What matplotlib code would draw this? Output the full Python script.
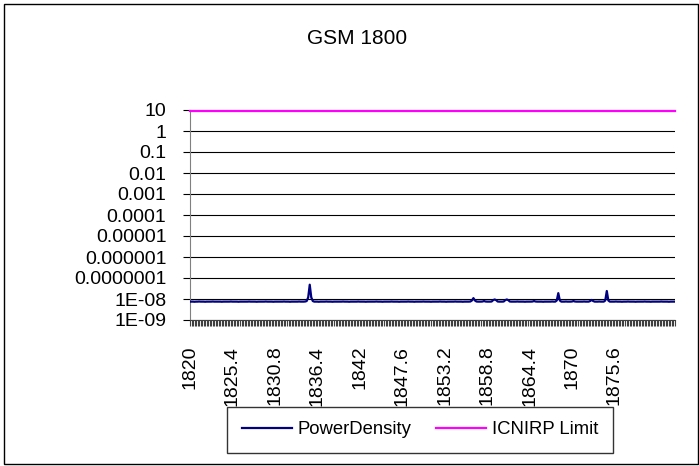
import matplotlib
matplotlib.use("Agg")
import matplotlib.pyplot as plt
from matplotlib.patches import Rectangle

plt.rcParams['font.family'] = ['Liberation Sans', 'DejaVu Sans']

title = "GSM 1800"
series_names = ["PowerDensity", "ICNIRP Limit"]

# tick labels shown on the category axis (every 28th category)
tick_labels = ["1820", "1825.4", "1830.8", "1836.4", "1842", "1847.6",
               "1853.2", "1858.8", "1864.4", "1870", "1875.6"]
label_every = 28

# PowerDensity values, in units of 1e-9 W/m^2 (321 categories)
power_density_e9 = [
    7.5, 7.5, 7.5, 7.4, 7.5, 7.5, 7.6, 7.5, 7.5, 7.5, 7.4, 7.5, 7.5, 7.5, 7.5, 7.6, 7.5, 7.5, 7.5, 7.5,
    7.5, 7.4, 7.5, 7.5, 7.5, 7.5, 7.5, 7.6, 7.5, 7.5, 7.5, 7.5, 7.4, 7.5, 7.5, 7.5, 7.5, 7.5, 7.5, 7.6,
    7.5, 7.5, 7.5, 7.5, 7.4, 7.5, 7.5, 7.5, 7.5, 7.5, 7.6, 7.5, 7.5, 7.5, 7.5, 7.4, 7.5, 7.5, 7.5, 7.5,
    7.5, 7.5, 7.6, 7.5, 7.5, 7.5, 7.4, 7.5, 7.5, 7.5, 7.5, 7.5, 7.6, 7.5, 7.5, 7.5, 7.6, 8.0, 12.0, 48.0,
    12.0, 8.0, 7.5, 7.5, 7.5, 7.4, 7.5, 7.5, 7.5, 7.5, 7.6, 7.5, 7.5, 7.5, 7.4, 7.5, 7.5, 7.5, 7.5, 7.5,
    7.5, 7.6, 7.5, 7.5, 7.5, 7.4, 7.5, 7.5, 7.5, 7.5, 7.5, 7.6, 7.5, 7.5, 7.5, 7.5, 7.4, 7.5, 7.5, 7.5,
    7.5, 7.5, 7.5, 7.6, 7.5, 7.5, 7.5, 7.4, 7.5, 7.5, 7.5, 7.5, 7.5, 7.6, 7.5, 7.5, 7.5, 7.5, 7.4, 7.5,
    7.5, 7.5, 7.5, 7.5, 7.6, 7.5, 7.5, 7.5, 7.4, 7.5, 7.5, 7.5, 7.5, 7.5, 7.6, 7.5, 7.5, 7.5, 7.5, 7.4,
    7.5, 7.5, 7.5, 7.5, 7.5, 7.6, 7.5, 7.5, 7.5, 7.4, 7.5, 7.5, 7.5, 7.5, 7.5, 7.6, 7.5, 7.5, 7.5, 7.5,
    7.4, 7.5, 7.5, 7.5, 7.5, 7.6, 8.5, 11.0, 8.5, 7.6, 7.5, 7.5, 7.5, 7.6, 8.0, 7.6, 7.5, 7.5, 7.5, 7.6,
    8.8, 9.5, 8.8, 7.6, 7.5, 7.5, 7.5, 7.6, 8.8, 9.5, 8.8, 7.6, 7.5, 7.5, 7.5, 7.5, 7.6, 7.5, 7.5, 7.5,
    7.5, 7.4, 7.5, 7.5, 7.5, 7.5, 7.6, 8.0, 7.6, 7.5, 7.5, 7.5, 7.5, 7.4, 7.5, 7.5, 7.5, 7.5, 7.5, 7.6,
    7.5, 7.5, 8.5, 19.0, 8.5, 7.5, 7.5, 7.5, 7.6, 7.5, 7.5, 7.5, 7.6, 8.0, 7.6, 7.5, 7.5, 7.5, 7.5, 7.5,
    7.6, 7.5, 7.5, 7.5, 8.0, 9.0, 8.0, 7.5, 7.5, 7.5, 7.6, 7.5, 7.5, 7.5, 8.5, 24.0, 8.5, 7.5, 7.5, 7.5,
    7.5, 7.6, 7.5, 7.5, 7.5, 7.4, 7.5, 7.5, 7.5, 7.6, 7.5, 7.5, 7.5, 7.5, 7.4, 7.5, 7.5, 7.5, 7.5, 7.5,
    7.6, 7.5, 7.5, 7.5, 7.4, 7.5, 7.5, 7.5, 7.5, 7.5, 7.5, 7.6, 7.5, 7.5, 7.5, 7.5, 7.4, 7.5, 7.5, 7.5,
    7.5,
]
icnirp_limit = 9.0  # W/m^2, constant across all categories

y_ticks = [1e-9, 1e-8, 1e-7, 1e-6, 1e-5, 1e-4, 1e-3, 1e-2, 1e-1, 1, 10]
y_tick_labels = ["1E-09", "1E-08", "0.0000001", "0.000001", "0.00001", "0.0001",
                 "0.001", "0.01", "0.1", "1", "10"]

W, H = 699, 466
fig = plt.figure(figsize=(W / 100, H / 100), dpi=100)
fig.patch.set_facecolor('white')

# outer chart border
fig.patches.append(Rectangle((4 / W, 2 / H), 694 / W, 460 / H, transform=fig.transFigure,
                             fill=False, edgecolor='black', linewidth=1.0))

ax = fig.add_axes([190 / W, 1 - 320 / H, 485 / W, 210 / H])

n = len(power_density_e9)
xs = list(range(n))
pd_vals = [v * 1e-9 for v in power_density_e9]
lim_vals = [icnirp_limit] * n

ax.plot(xs, pd_vals, color='#000080', linewidth=1.6, label=series_names[0], zorder=3)
ax.plot(xs, lim_vals, color='#FF00FF', linewidth=1.6, label=series_names[1], zorder=3,
        clip_on=False)

ax.set_yscale('log')
ax.set_ylim(1e-9, 10)
ax.set_xlim(0, n - 1)

ax.set_yticks(y_ticks)
ax.set_yticklabels(y_tick_labels)
ax.yaxis.set_minor_locator(matplotlib.ticker.NullLocator())
for yv in y_ticks:
    ax.axhline(yv, color='black', linewidth=0.8, zorder=1)

major_pos = [i * label_every for i in range(len(tick_labels))]
ax.set_xticks(major_pos)
ax.set_xticklabels(tick_labels, rotation=90, va='top', ha='center')
ax.set_xticks(xs, minor=True)

ax.tick_params(axis='x', which='both', direction='out', length=4.5, width=0.8, color='#404040')
ax.tick_params(axis='x', which='major', pad=14, labelsize=14)
ax.tick_params(axis='y', which='major', direction='out', length=5, width=0.8,
               color='black', labelsize=14, pad=12)

for side in ['top', 'right']:
    ax.spines[side].set_visible(False)
ax.spines['left'].set_color('#808080')
ax.spines['bottom'].set_color('#404040')

fig.text(357 / W, 1 - 39 / H, title, ha='center', va='center', fontsize=15)

leg = fig.legend(loc='center', bbox_to_anchor=(420 / W, 1 - 430 / H), ncol=2,
                 frameon=True, fancybox=False, fontsize=13.3, handlelength=2.7,
                 columnspacing=1.35, borderpad=0.8, handletextpad=0.3)
leg.get_frame().set_edgecolor('black')
leg.get_frame().set_linewidth(1.0)
leg.set_zorder(10)

fig.savefig('out.png', dpi=100)
